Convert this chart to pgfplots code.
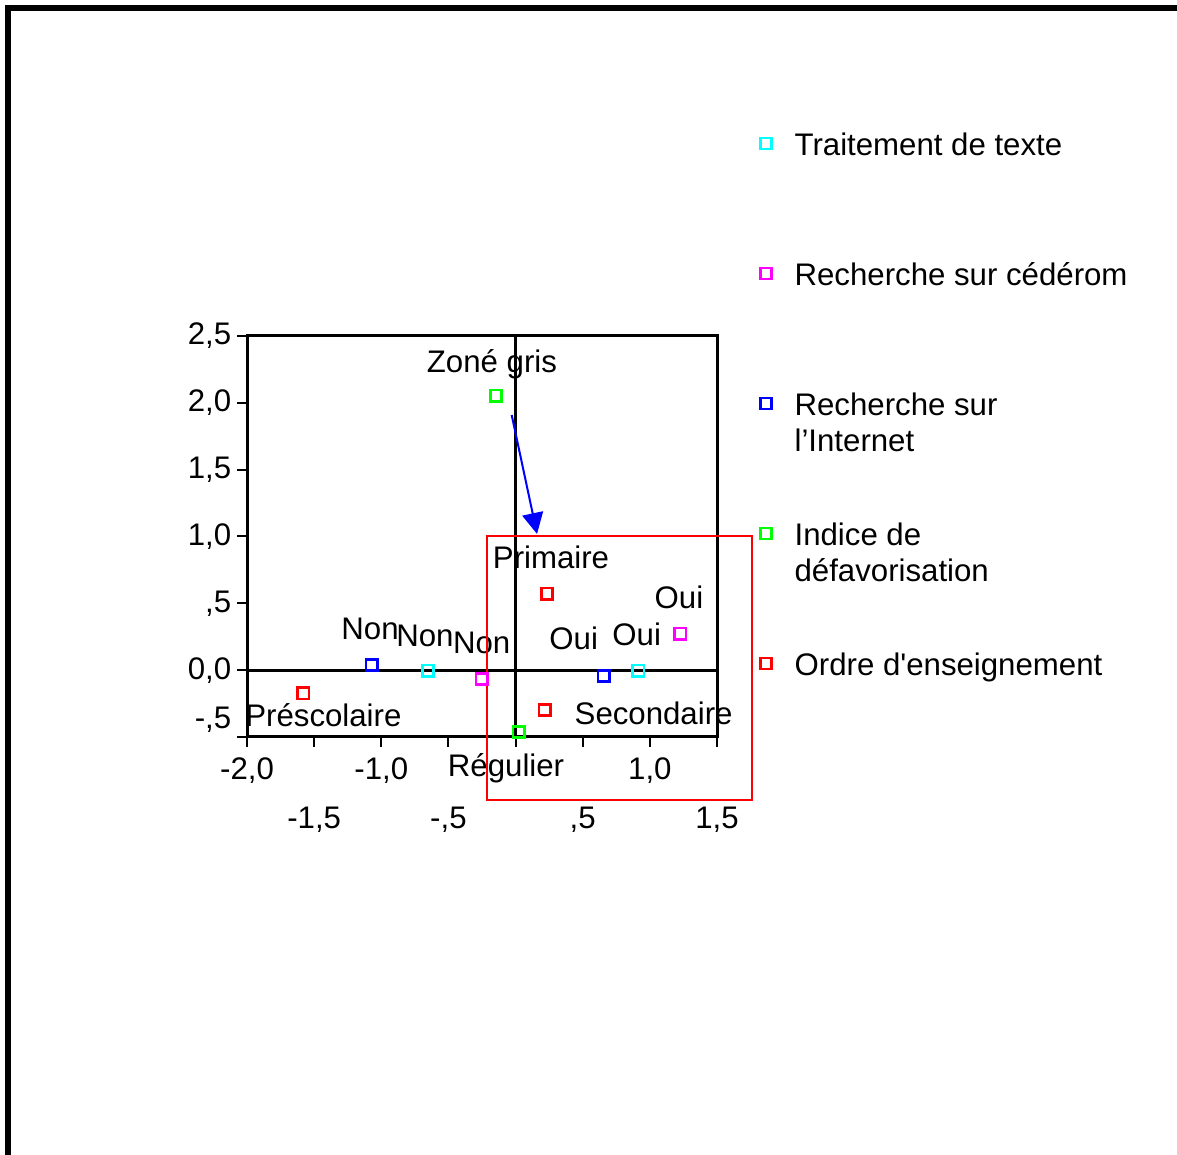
\documentclass[border=0pt]{standalone}
\usepackage{pgfplots}
\pgfplotsset{compat=1.18}
\usepackage{fontspec}
\setmainfont{Liberation Sans}
\usetikzlibrary{arrows.meta}
\definecolor{cCyan}{RGB}{0,255,255}
\definecolor{cMag}{RGB}{255,0,255}
\definecolor{cBlue}{RGB}{0,0,255}
\definecolor{cGreen}{RGB}{0,255,0}
\definecolor{cRed}{RGB}{255,0,0}
\pgfplotsset{
  pt/.style={only marks, mark=square, mark size=2.8pt, line width=1.3pt, color=#1,
    legend image code/.code={\draw[mark repeat=2,mark phase=2,##1] plot coordinates {(0pt,0pt) (7pt,0pt) (14pt,0pt)};}},
}
\newcommand{\legtxt}[1]{\raisebox{-6pt}{#1}}
\begin{document}
\fontsize{15.6}{18}\selectfont
\begin{tikzpicture}
\useasboundingbox (0,0) rectangle (588.5pt,577.5pt);
\draw[line width=3pt] (4pt,-10pt) -- (4pt,573.5pt) -- (600pt,573.5pt);
\begin{axis}[
  at={(123.5pt,209pt)}, anchor=south west,
  scale only axis, width=235pt, height=200.5pt,
  xmin=-2, xmax=1.5, ymin=-0.5, ymax=2.5,
  clip=false,
  axis line style={line width=1.5pt},
  every tick/.style={black, line width=1pt},
  tick align=outside, major tick length=5pt,
  tick pos=left,
  xtick={-2,-1,0,1},
  xticklabels={{-2,0},{-1,0},{},{1,0}},
  extra x ticks={-1.5,-0.5,0.5,1.5},
  extra x tick labels={{-1,5},{-,5},{,5},{1,5}},
  extra x tick style={xticklabel style={yshift=-24.5pt}},
  ytick={0,0.5,1,1.5,2,2.5},
  yticklabels={{0,0},{,5},{1,0},{1,5},{2,0},{2,5}},
  yticklabel style={xshift=2.5pt},
  extra y ticks={-0.5},
  extra y tick labels={-{,}5},
  extra y tick style={yticklabel style={yshift=8.5pt}},
  legend style={at={(axis description cs:1.0915,1.6434)}, anchor=north west,
    draw=none, fill=none, inner sep=0pt, row sep=0pt, column sep=11.5pt,
    nodes={inner sep=0pt, text height=32.5pt, text depth=32.5pt}},
  legend cell align=left,
]
\draw[line width=1.5pt] (axis cs:-2,0) -- (axis cs:1.5,0);
\draw[line width=1.5pt] (axis cs:0,-0.5) -- (axis cs:0,2.5);

\addplot[pt=cCyan] coordinates {(-0.652,-0.004) (0.914,-0.004)};
\addlegendentry{\legtxt{Traitement de texte}}
\addplot[pt=cMag] coordinates {(-0.252,-0.066) (1.226,0.273)};
\addlegendentry{\legtxt{Recherche sur cédérom}}
\addplot[pt=cBlue] coordinates {(-1.072,0.040) (0.656,-0.044)};
\addlegendentry{\legtxt{\parbox[t]{6cm}{Recherche sur\\l’Internet}}}
\addplot[pt=cGreen] coordinates {(-0.146,2.053) (0.023,-0.463)};
\addlegendentry{\legtxt{\parbox[t]{6cm}{Indice de\\défavorisation}}}
\addplot[pt=cRed] coordinates {(-1.581,-0.173) (0.234,0.572) (0.217,-0.298)};
\addlegendentry{\legtxt{Ordre d\textquotesingle enseignement}}

\node[anchor=base] at (axis cs:-0.176,2.225) {Zoné gris};
\node[anchor=base] at (axis cs:-1.084,0.233) {Non};
\node[anchor=base] at (axis cs:-0.675,0.176) {Non};
\node[anchor=base] at (axis cs:-0.252,0.128) {Non};
\node[anchor=base] at (axis cs:0.433,0.151) {Oui};
\node[anchor=base] at (axis cs:0.902,0.181) {Oui};
\node[anchor=base] at (axis cs:1.217,0.465) {Oui};
\node[anchor=base] at (axis cs:0.264,0.764) {Primaire};
\node[anchor=base] at (axis cs:1.028,-0.410) {Secondaire};
\node[anchor=base] at (axis cs:-1.431,-0.418) {Préscolaire};
\node[anchor=base] at (axis cs:-0.071,-0.792) {Régulier};

\draw[cRed, line width=1pt] (axis cs:-0.213,1.004) rectangle (axis cs:1.760,-0.971);
\draw[cBlue, line width=1pt, -{Triangle[length=10.5pt,width=10.5pt]}] (axis cs:-0.029,1.909) -- (axis cs:0.160,1.019);
\end{axis}
\end{tikzpicture}
\end{document}
